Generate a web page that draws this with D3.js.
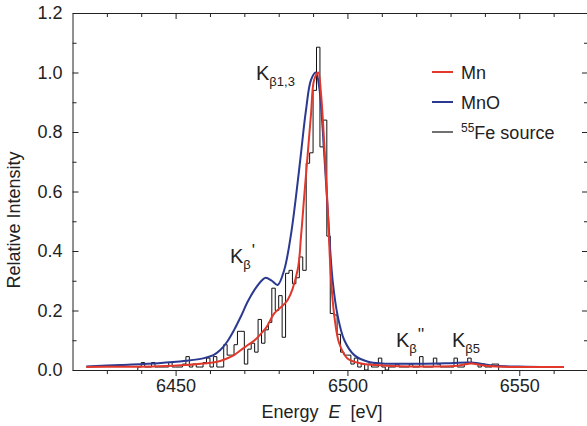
<!DOCTYPE html>
<html>
<head>
<meta charset="utf-8">
<script src="https://cdn.jsdelivr.net/npm/d3@7/dist/d3.min.js"></script>
<style>
  html, body { margin: 0; padding: 0; background: #fff; }
  svg { display: block; font-family: "Liberation Sans", Arial, Helvetica, sans-serif; }
  .axis text { font-size: 18px; fill: #222; }
  .axis path, .axis line { stroke: #222; stroke-width: 1; }
</style>
</head>
<body>
<svg id="chart" width="587" height="426"></svg>
<script>
// Mn Kβ emission: fitted spectra of Mn metal and MnO, plus the measured 55Fe-source histogram
const mnEnergy = [6424, 6434, 6445, 6453, 6458, 6461, 6463, 6465, 6467, 6469, 6471, 6473, 6475, 6476.5,
  6478.7, 6482.6, 6485.5, 6486.5, 6487.4, 6488.4, 6489.4, 6490.3, 6491.5, 6492.3, 6493.3, 6494.3,
  6495.2, 6496.2, 6497.6, 6500, 6504, 6508, 6515, 6525, 6532, 6536, 6539, 6545, 6563];
const mnIntensity = [0.010, 0.011, 0.013, 0.017, 0.022, 0.025, 0.030, 0.039, 0.050, 0.067, 0.084, 0.100, 0.124, 0.145,
  0.190, 0.235, 0.336, 0.450, 0.580, 0.720, 0.860, 0.975, 1.000, 0.930, 0.750, 0.530,
  0.310, 0.180, 0.090, 0.039, 0.022, 0.017, 0.013, 0.012, 0.014, 0.022, 0.016, 0.011, 0.010];

const mnoEnergy = [6424, 6434, 6445, 6453, 6458, 6461, 6463, 6465, 6467, 6469, 6471, 6473, 6475, 6476.2,
  6478, 6479.7, 6481.6, 6483.5, 6485, 6486.5, 6487.9, 6489.4, 6490.8, 6491.8, 6492.8, 6494.3,
  6495.7, 6497.2, 6499.1, 6502, 6506, 6510, 6521, 6530, 6536, 6543, 6552, 6563];
const mnoIntensity = [0.012, 0.017, 0.023, 0.031, 0.039, 0.050, 0.067, 0.095, 0.134, 0.180, 0.230, 0.270, 0.300, 0.310,
  0.300, 0.286, 0.336, 0.450, 0.580, 0.730, 0.870, 0.975, 1.000, 0.950, 0.810, 0.530,
  0.300, 0.180, 0.100, 0.050, 0.028, 0.022, 0.021, 0.023, 0.025, 0.014, 0.011, 0.010];

// 55Fe source spectrum, 1 eV bins starting at 6439 eV
const feBinStart = 6439;
const feCounts = [
  0.010, 0.025, 0.010, 0.010, 0.025, 0.010, 0.010, 0.010, 0.010, 0.025,  // 6439-6448
  0.010, 0.010, 0.010, 0.020, 0.045, 0.010, 0.020, 0.010, 0.010, 0.025,  // 6449-6458
  0.040, 0.010, 0.045, 0.010, 0.010, 0.085, 0.050, 0.050, 0.085, 0.130,  // 6459-6468
  0.130, 0.020, 0.070, 0.090, 0.060, 0.170, 0.090, 0.135, 0.160, 0.275,  // 6469-6478
  0.200, 0.250, 0.110, 0.325, 0.335, 0.290, 0.310, 0.380, 0.335, 0.695,  // 6479-6488
  0.730, 0.940, 1.085, 0.750, 0.840, 0.450, 0.190, 0.185, 0.120, 0.060,  // 6489-6498
  0.050, 0.050, 0.020, 0.040, 0.010, 0.020, 0.000, 0.020, 0.010, 0.010,  // 6499-6508
  0.040, 0.010, 0.000, 0.010, 0.010, 0.020, 0.010, 0.010, 0.010, 0.020,  // 6509-6518
  0.010, 0.010, 0.045, 0.010, 0.010, 0.010, 0.040, 0.020, 0.010, 0.010,  // 6519-6528
  0.010, 0.010, 0.040, 0.010, 0.010, 0.020, 0.040, 0.025, 0.020, 0.010,  // 6529-6538
  0.020, 0.010, 0.010, 0.020, 0.020                                       // 6539-6543
];

const xMajorTicks = [6450, 6500, 6550];
const yMajorTicks = [0.0, 0.2, 0.4, 0.6, 0.8, 1.0, 1.2];
const legendLabels = ["Mn", "MnO", "Fe source"];

const svg = d3.select("#chart");
const plot = { left: 72.5, top: 13, right: 588, bottom: 370 };

const x = d3.scaleLinear().domain([6420, 6570]).range([plot.left, plot.right]);
const y = d3.scaleLinear().domain([0, 1.2]).range([plot.bottom, plot.top]);

const xMinor = d3.range(6430, 6570, 10).filter(v => !xMajorTicks.includes(v));
const yMinor = d3.range(0.1, 1.2, 0.2);

// axes: bottom ticks point outward, the other three sides point inward
const axisB = svg.append("g").attr("class", "axis").attr("transform", `translate(0,${plot.bottom})`);
axisB.call(d3.axisBottom(x).tickValues(xMajorTicks).tickSizeInner(6).tickSizeOuter(0).tickPadding(3).tickFormat(d3.format("d")));
axisB.append("g").call(d3.axisBottom(x).tickValues(xMinor).tickSizeInner(4).tickSizeOuter(0).tickFormat(""))
  .select(".domain").remove();

const axisT = svg.append("g").attr("class", "axis").attr("transform", `translate(0,${plot.top})`);
axisT.call(d3.axisTop(x).tickValues(xMajorTicks).tickSizeInner(-6).tickSizeOuter(0).tickFormat(""));
axisT.append("g").call(d3.axisTop(x).tickValues(xMinor).tickSizeInner(-4).tickSizeOuter(0).tickFormat(""))
  .select(".domain").remove();

const axisL = svg.append("g").attr("class", "axis").attr("transform", `translate(${plot.left},0)`);
axisL.call(d3.axisLeft(y).tickValues(yMajorTicks).tickSizeInner(-6).tickSizeOuter(0).tickPadding(10).tickFormat(d3.format(".1f")));
axisL.append("g").call(d3.axisLeft(y).tickValues(yMinor).tickSizeInner(-4).tickSizeOuter(0).tickFormat(""))
  .select(".domain").remove();

const axisR = svg.append("g").attr("class", "axis").attr("transform", `translate(${plot.right},0)`);
axisR.call(d3.axisRight(y).tickValues(yMajorTicks).tickSizeInner(-6).tickSizeOuter(0).tickFormat(""));
axisR.append("g").call(d3.axisRight(y).tickValues(yMinor).tickSizeInner(-4).tickSizeOuter(0).tickFormat(""))
  .select(".domain").remove();

// histogram as a step outline
const feEdges = feCounts.map((v, i) => ({ e: feBinStart + i, v }));
feEdges.push({ e: feBinStart + feCounts.length, v: 0 });
const step = d3.line().x(d => x(d.e)).y(d => y(d.v)).curve(d3.curveStepAfter);
const feOutline = [{ e: feBinStart, v: 0 }, ...feEdges];
svg.append("path")
  .attr("d", step(feOutline))
  .attr("fill", "none")
  .attr("stroke", "#111")
  .attr("stroke-width", 1);

const curve = d3.line().x(d => x(d[0])).y(d => y(d[1])).curve(d3.curveCatmullRom.alpha(0.5));
const mnoPts = mnoEnergy.map((e, i) => [e, mnoIntensity[i]]);
const mnPts = mnEnergy.map((e, i) => [e, mnIntensity[i]]);

const blue = "#2b3990";
const red = "#e2372b";
svg.append("path").attr("d", curve(mnoPts)).attr("fill", "none").attr("stroke", blue).attr("stroke-width", 2);
svg.append("path").attr("d", curve(mnPts)).attr("fill", "none").attr("stroke", red).attr("stroke-width", 2);

// legend
const legendColors = [red, blue, "#111"];
const legendWidths = [2, 2, 1.2];
const lg = svg.append("g").attr("transform", "translate(432,72)");
legendLabels.forEach((lab, i) => {
  const row = lg.append("g").attr("transform", `translate(0,${i * 30})`);
  row.append("line").attr("x1", 0).attr("x2", 21).attr("y1", 0).attr("y2", 0)
    .attr("stroke", legendColors[i]).attr("stroke-width", legendWidths[i]);
  const t = row.append("text").attr("x", 29).attr("y", 6.5).attr("font-size", 18).attr("fill", "#222");
  if (i === 2) {
    t.append("tspan").attr("font-size", 12).attr("dy", -7).text("55");
    t.append("tspan").attr("dy", 7).text(lab);
  } else {
    t.text(lab);
  }
});

// peak annotations
function peakLabel(px, py, sub, prime) {
  const t = svg.append("text").attr("x", px).attr("y", py).attr("font-size", 20).attr("fill", "#222");
  t.append("tspan").text("K");
  t.append("tspan").attr("font-size", 13).attr("dy", 6).text(sub);
  if (prime) t.append("tspan").attr("font-size", 17).attr("dy", -13).attr("dx", 1).text(prime);
}
peakLabel(256, 80, "β1,3", "");
peakLabel(230, 263, "β", "'");
peakLabel(396, 347, "β", "''");
peakLabel(452, 347, "β5", "");

// axis titles
const xt = svg.append("text").attr("x", 322).attr("y", 418).attr("text-anchor", "middle")
  .attr("font-size", 18).attr("fill", "#222").style("white-space", "pre");
xt.append("tspan").text("Energy  ");
xt.append("tspan").attr("font-style", "italic").text("E");
xt.append("tspan").text("  [eV]");

svg.append("text").attr("transform", "translate(20,220) rotate(-90)")
  .attr("text-anchor", "middle").attr("font-size", 18).attr("fill", "#222")
  .text("Relative Intensity");
</script>
</body>
</html>
